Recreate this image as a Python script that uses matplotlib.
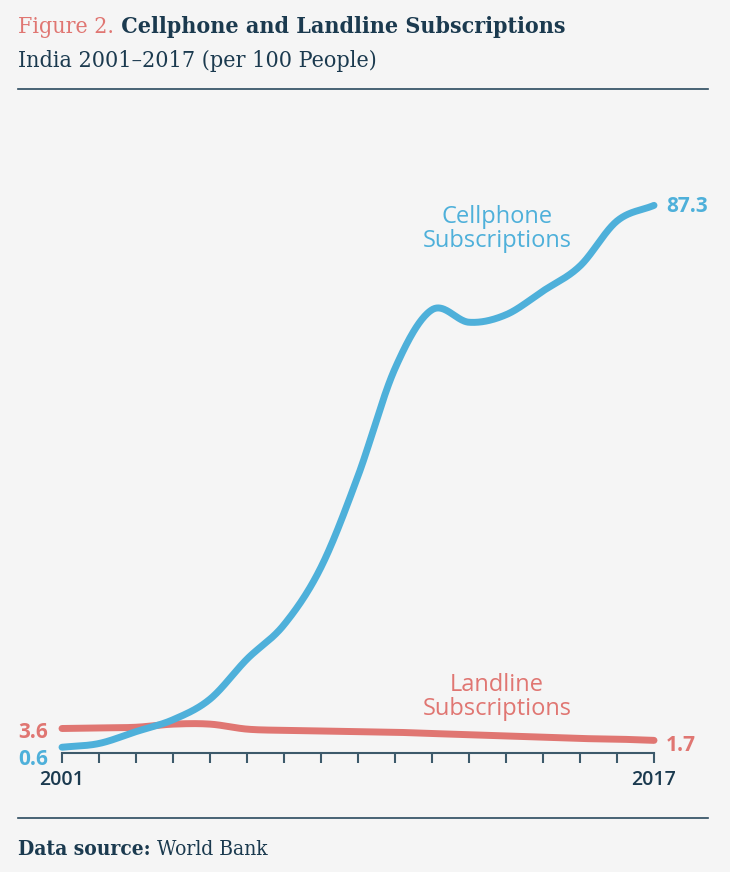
import matplotlib
matplotlib.use("Agg")
import matplotlib.pyplot as plt
import numpy as np

# data (per 100 people)
years = list(range(2001, 2018))
cellphone = [0.6, 1.2, 3.1, 5.0, 8.3, 14.7, 20.2, 29.4, 44.0, 61.2, 70.6, 68.6, 69.8, 73.6, 77.6, 84.8, 87.3]
landline = [3.6, 3.7, 3.8, 4.3, 4.3, 3.5, 3.3, 3.2, 3.1, 3.0, 2.8, 2.6, 2.4, 2.2, 2.0, 1.9, 1.7]
tick_labels = ["2001"] + [""] * 15 + ["2017"]

BG = "#f5f5f5"
NAVY = "#1b3a4f"
RULE = "#2b4a5e"
AXIS = "#3d5a6b"
BLUE = "#4eb0da"
RED = "#e07672"

W, H = 730, 872
SERIF = "DejaVu Serif"


def smooth(x, y, n=40):
    # catmull-rom through the yearly points, like the curved line of the original
    x = np.asarray(x, float)
    y = np.asarray(y, float)
    px = np.concatenate([[2 * x[0] - x[1]], x, [2 * x[-1] - x[-2]]])
    py = np.concatenate([[2 * y[0] - y[1]], y, [2 * y[-1] - y[-2]]])
    xs, ys = [], []
    t = np.linspace(0, 1, n, endpoint=False)
    for i in range(1, len(px) - 2):
        for arr, out in ((px, xs), (py, ys)):
            p0, p1, p2, p3 = arr[i - 1], arr[i], arr[i + 1], arr[i + 2]
            out.append(0.5 * (2 * p1 + (p2 - p0) * t + (2 * p0 - 5 * p1 + 4 * p2 - p3) * t**2
                              + (3 * p1 - p0 - 3 * p2 + p3) * t**3))
    xs.append([x[-1]])
    ys.append([y[-1]])
    return np.concatenate(xs), np.concatenate(ys)


fig = plt.figure(figsize=(W / 100, H / 100), dpi=100, facecolor=BG)


def fx(px):
    return px / W


def fy(py):
    return 1 - py / H


ax = fig.add_axes([fx(62), 1 - 751 / H, 592 / W, 625 / H])
ax.set_facecolor(BG)
ax.patch.set_alpha(0)
ax.set_xlim(2001, 2017)
ax.set_ylim(0, 100)

for vals, col in [(landline, RED), (cellphone, BLUE)]:
    sx, sy = smooth(years, vals)
    ax.plot(sx, sy, color=col, lw=5, solid_capstyle="round", clip_on=False, zorder=3)

for s in ["top", "left", "right"]:
    ax.spines[s].set_visible(False)
ax.spines["bottom"].set_color(AXIS)
ax.spines["bottom"].set_linewidth(1.5)
ax.spines["bottom"].set_position(("outward", 1.5))
ax.set_yticks([])
ax.set_xticks(years)
ax.set_xticklabels(tick_labels)
ax.tick_params(axis="x", direction="out", length=7, width=1.5, color=AXIS, pad=5,
               labelsize=14, labelcolor=NAVY)
for lab in ax.get_xticklabels():
    lab.set_family("Open Sans")
    lab.set_weight("semibold")

# end values
val_kw = dict(textcoords="offset points", fontsize=15, family="Open Sans", weight="bold",
              annotation_clip=False)
ax.annotate(f"{landline[0]}", (years[0], landline[0]), xytext=(-10, -3), ha="right", va="center",
            color=RED, **val_kw)
ax.annotate(f"{cellphone[0]}", (years[0], cellphone[0]), xytext=(-10, -8.5), ha="right", va="center",
            color=BLUE, **val_kw)
ax.annotate(f"{cellphone[-1]}", (years[-1], cellphone[-1]), xytext=(8.5, -0.5), ha="left", va="center",
            color=BLUE, **val_kw)
ax.annotate(f"{landline[-1]}", (years[-1], landline[-1]), xytext=(8.5, -3.5), ha="left", va="center",
            color=RED, **val_kw)

# series labels
ser_kw = dict(ha="center", va="center", fontsize=17, family="Open Sans", linespacing=1.0)
ax.text(2012.76, 83.6, "Cellphone\nSubscriptions", color=BLUE, **ser_kw)
ax.text(2012.76, 8.7, "Landline\nSubscriptions", color=RED, **ser_kw)

# header
t1 = fig.text(fx(18), fy(33.3), "Figure 2.", color=RED, fontsize=16.6, family=SERIF,
              stretch="condensed", va="baseline", ha="left")
ax.annotate(" Cellphone and Landline Subscriptions", xy=(1, 0), xycoords=t1, va="bottom",
            ha="left", color=NAVY, fontsize=16.6, family=SERIF, stretch="condensed",
            weight="bold", annotation_clip=False)
fig.text(fx(18), fy(66.7), "India 2001\u20132017 (per 100 People)", color=NAVY, fontsize=16.7,
         family=SERIF, stretch="condensed", va="baseline", ha="left")

fig.add_artist(plt.Line2D([fx(18), fx(708)], [fy(89.3), fy(89.3)], color=RULE, lw=1.2))
fig.add_artist(plt.Line2D([fx(18), fx(708)], [fy(818.3), fy(818.3)], color=RULE, lw=1.2))

# footer
t2 = fig.text(fx(18), fy(855), "Data source:", color=NAVY, fontsize=15, family=SERIF,
              stretch="condensed", weight="bold", va="baseline", ha="left")
ax.annotate(" World Bank", xy=(1, 0), xycoords=t2, va="bottom", ha="left", color=NAVY,
            fontsize=15, family=SERIF, stretch="condensed", annotation_clip=False)

fig.savefig("out.png", dpi=100, facecolor=BG)
